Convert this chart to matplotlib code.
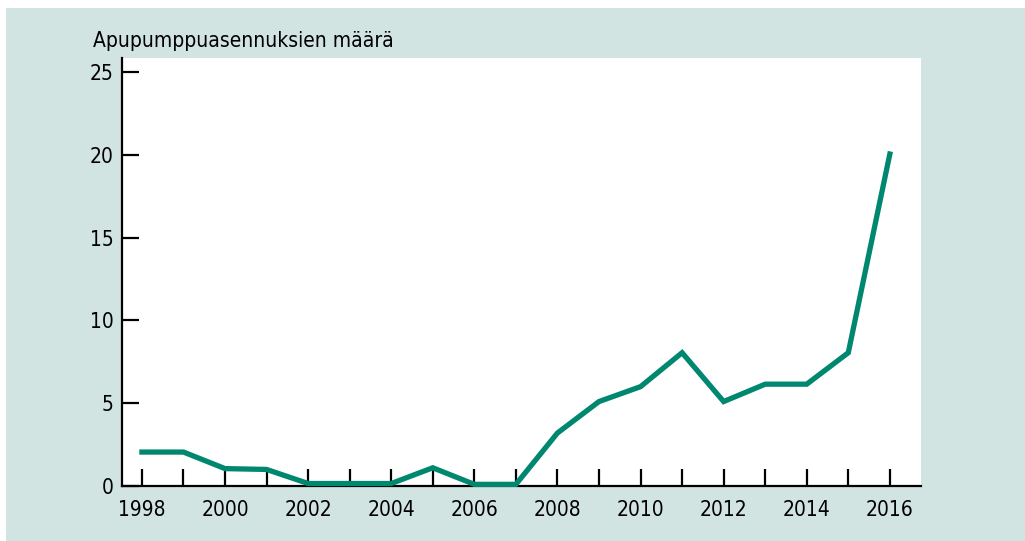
import matplotlib.pyplot as plt
from matplotlib.patches import Rectangle

# data
years = list(range(1998, 2017))
counts = [2.05, 2.05, 1.05, 1.0, 0.15, 0.15, 0.15, 1.1, 0.1, 0.1,
          3.2, 5.1, 6.0, 8.05, 5.1, 6.15, 6.15, 8.05, 20.05]
y_ticks = [0, 5, 10, 15, 20, 25]
x_labels = [1998, 2000, 2002, 2004, 2006, 2008, 2010, 2012, 2014, 2016]
title = "Apupumppuasennuksien määrä"

bg = "#d2e4e2"
line_col = "#00876f"

plt.rcParams['font.family'] = ['DejaVu Sans']
plt.rcParams['font.stretch'] = 'condensed'

W, H = 1025, 541
fig = plt.figure(figsize=(W / 100, H / 100), dpi=100)
fig.patch.set_facecolor("white")
fig.patches.append(Rectangle((6 / W, 0), 1 - 6 / W, 1 - 8 / H,
                             transform=fig.transFigure, facecolor=bg,
                             edgecolor="none", zorder=-1))

ax = fig.add_axes([122 / W, 1 - 486 / H, (921 - 122) / W, (486 - 58) / H])
ax.set_facecolor("white")
ax.plot(years, counts, color=line_col, linewidth=3.8, solid_joinstyle="miter",
        clip_on=False, zorder=3)

ax.set_xlim(1997.52, 2016.75)
ax.set_ylim(0, 25.85)

for s in ["top", "right"]:
    ax.spines[s].set_visible(False)
for s in ["left", "bottom"]:
    ax.spines[s].set_linewidth(1.6)
    ax.spines[s].set_color("black")

ax.set_yticks(y_ticks)
ax.set_xticks(years)
ax.set_xticklabels([str(y) if y in x_labels else "" for y in years])
ax.tick_params(axis="both", direction="in", length=12, width=1.6,
               labelsize=15, colors="black")
ax.tick_params(axis="x", pad=10)
ax.tick_params(axis="y", pad=6)

fig.text(93 / W, 1 - 47 / H, title, fontsize=15, ha="left", va="baseline")

fig.savefig("out.png", dpi=100, facecolor=fig.get_facecolor())
